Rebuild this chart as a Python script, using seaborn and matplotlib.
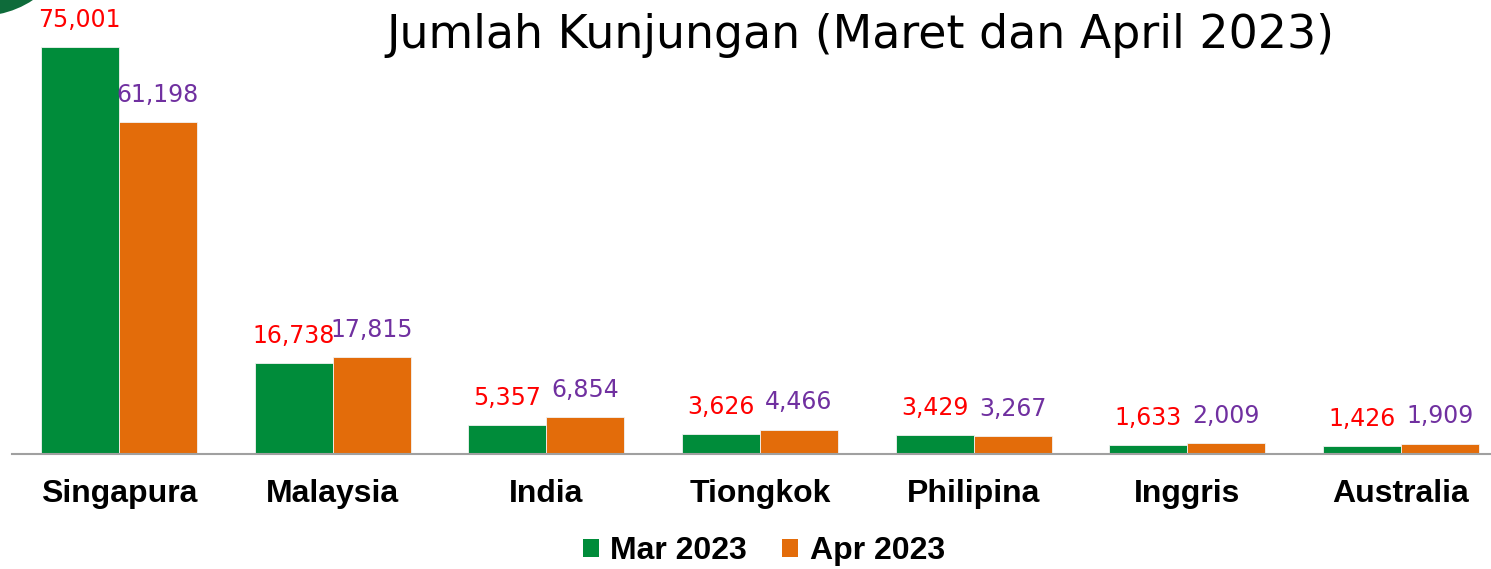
import matplotlib
matplotlib.use("Agg")
import matplotlib.pyplot as plt
import seaborn as sns
import pandas as pd
from matplotlib.patches import Circle, Patch
from matplotlib.transforms import IdentityTransform

categories = ["Singapura", "Malaysia", "India", "Tiongkok", "Philipina", "Inggris", "Australia"]
mar_2023 = [75001, 16738, 5357, 3626, 3429, 1633, 1426]
apr_2023 = [61198, 17815, 6854, 4466, 3267, 2009, 1909]
series_names = ["Mar 2023", "Apr 2023"]
title = "Jumlah Kunjungan (Maret dan April 2023)"

bar_colors = ["#008C3A", "#E36C0A"]
label_colors = ["#FF0000", "#7030A0"]

df = pd.DataFrame({
    "Negara": categories * 2,
    "Kunjungan": mar_2023 + apr_2023,
    "Bulan": [series_names[0]] * len(categories) + [series_names[1]] * len(categories),
})

sns.set_theme(style="white")
plt.rcParams["font.family"] = ["DejaVu Sans"]

W, H = 1491, 569
fig = plt.figure(figsize=(W / 100, H / 100), dpi=100)
ax = fig.add_axes([12 / W, 1 - 454 / H, (W - 12) / W, 454 / H])

sns.barplot(data=df, x="Negara", y="Kunjungan", hue="Bulan", order=categories,
            hue_order=series_names, palette=bar_colors, width=0.73, ax=ax,
            edgecolor="#f2f2f2", linewidth=0.6, legend=False, saturation=1)

ax.set_xlim(-0.5, (W - 12) / 213.7 - 0.5)
ax.set_ylim(0, 454 / (407 / 75001))

for cont, vals, col in zip(ax.containers, [mar_2023, apr_2023], label_colors):
    ax.bar_label(cont, labels=[f"{v:,}" for v in vals], color=col, fontsize=17,
                 fontfamily="DejaVu Sans", padding=11)

for s in ["top", "right", "left"]:
    ax.spines[s].set_visible(False)
ax.spines["bottom"].set_color("#A0A0A0")
ax.spines["bottom"].set_linewidth(1.5)
ax.set_yticks([])
ax.set_xlabel("")
ax.set_ylabel("")
ax.tick_params(axis="x", length=0, pad=18)
for lbl in ax.get_xticklabels():
    lbl.set_fontfamily("Liberation Sans")
    lbl.set_fontweight("bold")
    lbl.set_fontsize(23)
    lbl.set_color("black")

fig.text(860 / W, 1 - 36 / H, title, ha="center", va="center", fontsize=33,
         fontfamily="DejaVu Sans", color="black")

handles = [Patch(facecolor=c, edgecolor="none") for c in bar_colors]
fig.legend(handles, series_names, loc="center", bbox_to_anchor=(764 / W, 1 - 551 / H),
           ncol=2, frameon=False, handlelength=0.5, handleheight=0.5, handletextpad=0.35,
           columnspacing=1.1, labelcolor="black",
           prop={"family": "Liberation Sans", "weight": "bold", "size": 23})

fig.add_artist(Circle((-20, H + 80), 96, transform=IdentityTransform(),
                      facecolor="#0E6B3A", edgecolor="none"))

fig.savefig("out.png", dpi=100)
